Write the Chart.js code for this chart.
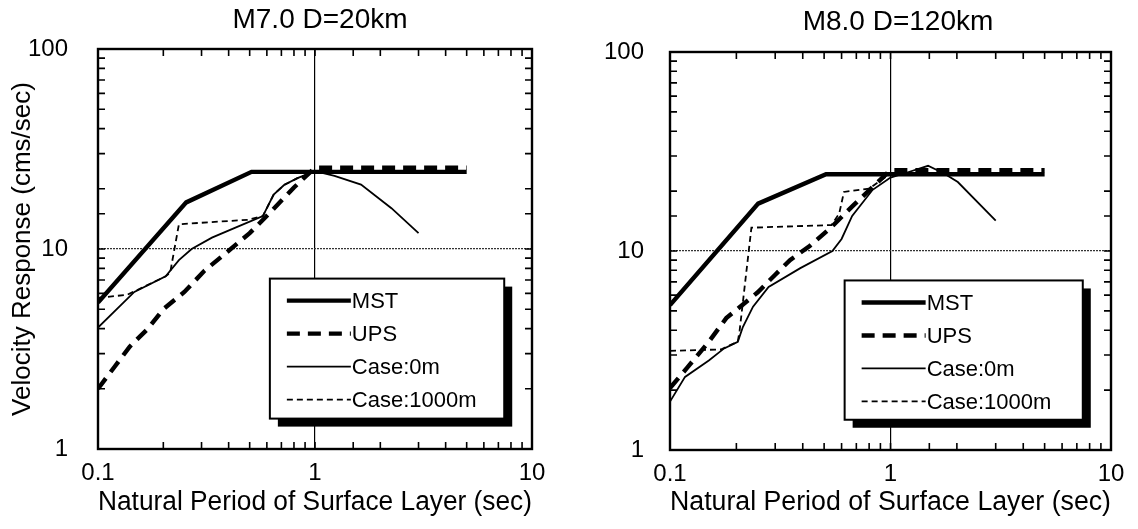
<!DOCTYPE html>
<html>
<head>
<meta charset="utf-8">
<script src="https://cdn.jsdelivr.net/npm/chart.js@4.4.1/dist/chart.umd.min.js"></script>
<style>
  html, body { margin: 0; padding: 0; background: #fff; }
  #wrap { position: relative; width: 1138px; height: 529px; }
  canvas { position: absolute; top: 0; }
  #c1 { left: 0; }
  #c2 { left: 569px; }
</style>
</head>
<body>
<div id="wrap">
  <canvas id="c1" width="569" height="529"></canvas>
  <canvas id="c2" width="569" height="529"></canvas>
</div>
<script>
// tick labels shown on the log axes
const xTickLabels = [0.1, 1, 10];
const yTickLabels = [1, 10, 100];

// M7.0 D=20km : period (sec) / velocity response (cm/s)
const m7MstT = [0.1, 0.255, 0.51, 5];
const m7MstV = [5.4, 17.1, 24.3, 24.3];
const m7UpsT = [0.1, 0.12, 0.14, 0.17, 0.2, 0.25, 0.31, 0.4, 0.5, 0.62, 0.8, 1, 5];
const m7UpsV = [2.0, 2.6, 3.25, 4.0, 5.0, 6.1, 7.8, 9.8, 12.0, 15.2, 20.3, 25.5, 25.5];
const m7Case0T = [0.1, 0.147, 0.205, 0.236, 0.27, 0.335, 0.43, 0.575, 0.645, 0.72, 0.83, 1, 1.23, 1.63, 2.25, 3];
const m7Case0V = [4.05, 6.1, 7.3, 8.8, 10, 11.4, 12.8, 14.6, 18.7, 20.9, 22.6, 24.5, 23.2, 21, 16, 12];
const m7Case1000T = [0.1, 0.136, 0.15, 0.205, 0.215, 0.236, 0.49, 0.575, 0.645, 0.72, 0.83, 1];
const m7Case1000V = [5.7, 5.9, 6.2, 7.3, 7.6, 13.3, 14.0, 14.6, 18.7, 20.9, 22.6, 24.5];

// M8.0 D=120km
const m8MstT = [0.1, 0.251, 0.51, 5];
const m8MstV = [5.35, 17.3, 24.3, 24.3];
const m8UpsT = [0.1, 0.12, 0.15, 0.18, 0.25, 0.3, 0.35, 0.43, 0.54, 0.68, 0.85, 1, 5];
const m8UpsV = [2.05, 2.6, 3.5, 4.6, 6.2, 7.6, 9.0, 10.6, 13.2, 17, 21.5, 25.5, 25.5];
const m8Case0T = [0.1, 0.117, 0.15, 0.176, 0.203, 0.214, 0.238, 0.28, 0.39, 0.545, 0.6, 0.67, 0.83, 1, 1.19, 1.48, 1.75, 2.02, 3];
const m8Case0V = [1.75, 2.33, 2.82, 3.24, 3.5, 4.15, 5.25, 6.6, 8.2, 10, 11.5, 15, 20.3, 23.4, 24.8, 26.8, 24.5, 22.2, 14.2];
const m8Case1000T = [0.1, 0.17, 0.203, 0.207, 0.234, 0.54, 0.585, 0.615, 0.8, 1];
const m8Case1000V = [3.15, 3.2, 3.5, 4.0, 13.1, 13.5, 15.4, 19.8, 20.6, 24.5];

const FONT = '"Liberation Sans", Arial, Helvetica, sans-serif';

const lineStyle = {
  'MST':        { borderWidth: 4.4, borderDash: [] },
  'UPS':        { borderWidth: 4.4, borderDash: [13, 8] },
  'Case:0m':    { borderWidth: 1.8, borderDash: [] },
  'Case:1000m': { borderWidth: 1.8, borderDash: [6, 4] }
};

function zip(xs, ys) {
  return xs.map((x, i) => ({ x: x, y: ys[i] }));
}

function isLabel(list, v) {
  return list.some(t => Math.abs(t - v) / t < 1e-6);
}

// border of the plot plus the small inward ticks on all four sides
const frameTicks = {
  id: 'frameTicks',
  afterDatasetsDraw(chart) {
    const { ctx, chartArea: a, scales: { x, y } } = chart;
    ctx.save();
    ctx.strokeStyle = '#000';
    ctx.lineWidth = 1.6;
    ctx.beginPath();
    x.ticks.forEach(t => {
      const px = x.getPixelForValue(t.value);
      if (px < a.left + 2 || px > a.right - 2) return;
      ctx.moveTo(px, a.top); ctx.lineTo(px, a.top + 7);
      ctx.moveTo(px, a.bottom); ctx.lineTo(px, a.bottom - 7);
    });
    y.ticks.forEach(t => {
      const py = y.getPixelForValue(t.value);
      if (py < a.top + 2 || py > a.bottom - 2) return;
      ctx.moveTo(a.left, py); ctx.lineTo(a.left + 7, py);
      ctx.moveTo(a.right, py); ctx.lineTo(a.right - 7, py);
    });
    ctx.stroke();
    ctx.lineWidth = 2.4;
    ctx.strokeRect(a.left, a.top, a.right - a.left, a.bottom - a.top);
    ctx.restore();
  }
};

// boxed legend with the heavy drop shadow
const boxLegend = {
  id: 'boxLegend',
  afterDatasetsDraw(chart, args, opts) {
    const { ctx, chartArea: a } = chart;
    const w = a.right - a.left, h = a.bottom - a.top;
    const bx = a.left + w * opts.left, by = a.top + h * opts.top;
    const bw = w * opts.width, bh = h * opts.height;
    ctx.save();
    ctx.fillStyle = '#000';
    ctx.fillRect(bx + 8, by + 8, bw, bh);
    ctx.fillStyle = '#fff';
    ctx.fillRect(bx, by, bw, bh);
    ctx.strokeStyle = '#000';
    ctx.lineWidth = 2;
    ctx.strokeRect(bx, by, bw, bh);
    ctx.font = '22px ' + FONT;
    ctx.fillStyle = '#000';
    ctx.textBaseline = 'middle';
    chart.data.datasets.forEach((ds, i) => {
      const ly = by + 22 + i * 33;
      ctx.beginPath();
      ctx.setLineDash(ds.borderDash);
      ctx.lineWidth = ds.borderWidth;
      ctx.moveTo(bx + 17, ly);
      ctx.lineTo(bx + 81, ly);
      ctx.stroke();
      ctx.setLineDash([]);
      ctx.fillText(ds.label, bx + 82, ly + 1);
    });
    ctx.restore();
  }
};

const panelTitle = {
  id: 'panelTitle',
  afterDraw(chart, args, opts) {
    const ctx = chart.ctx;
    ctx.save();
    ctx.font = '28px ' + FONT;
    ctx.fillStyle = '#000';
    ctx.textAlign = 'center';
    ctx.textBaseline = 'middle';
    ctx.fillText(opts.text, opts.x, opts.y);
    ctx.restore();
  }
};

function makeChart(canvasId, title, series, box) {
  const datasets = series.map(s => ({
    label: s.label,
    data: zip(s.T, s.V),
    borderColor: '#000',
    backgroundColor: '#000',
    borderWidth: lineStyle[s.label].borderWidth,
    borderDash: lineStyle[s.label].borderDash,
    pointRadius: 0,
    tension: 0,
    fill: false
  }));

  return new Chart(document.getElementById(canvasId), {
    type: 'line',
    data: { datasets: datasets },
    plugins: [frameTicks, boxLegend, panelTitle],
    options: {
      responsive: false,
      animation: false,
      events: [],
      layout: { padding: { top: box.top, right: box.right, bottom: 0, left: 0 } },
      plugins: {
        legend: { display: false },
        tooltip: { enabled: false },
        title: { display: false },
        boxLegend: { left: 0.396, top: 0.574, width: 0.54, height: 0.35 },
        panelTitle: { text: title, x: box.titleX, y: box.titleY }
      },
      scales: {
        x: {
          type: 'logarithmic',
          min: 0.1,
          max: 10,
          afterFit: sc => { sc.height = box.xHeight; },
          border: { display: false },
          grid: {
            drawTicks: false,
            lineWidth: 1.2,
            color: c => (c.tick && Math.abs(c.tick.value - 1) < 1e-6) ? '#000' : 'rgba(0,0,0,0)'
          },
          ticks: {
            autoSkip: false,
            maxRotation: 0,
            padding: 10,
            color: '#000',
            font: { family: FONT, size: 24 },
            callback: v => isLabel(xTickLabels, v) ? String(v) : ''
          },
          title: {
            display: true,
            text: 'Natural Period of Surface Layer (sec)',
            color: '#000',
            font: { family: FONT, size: 27 },
            padding: { top: 0, bottom: 10 }
          }
        },
        y: {
          type: 'logarithmic',
          min: 1,
          max: 100,
          afterFit: sc => { sc.width = box.yWidth; },
          border: { display: false, dash: [2, 1] },
          grid: {
            drawTicks: false,
            lineWidth: 1.2,
            color: c => (c.tick && Math.abs(c.tick.value - 10) < 1e-6) ? '#333' : 'rgba(0,0,0,0)'
          },
          ticks: {
            autoSkip: false,
            padding: box.yPad,
            color: '#000',
            font: { family: FONT, size: 24 },
            callback: v => isLabel(yTickLabels, v) ? String(v) : ''
          },
          title: {
            display: box.yTitle,
            text: 'Velocity Response (cms/sec)',
            color: '#000',
            font: { family: FONT, size: 26 },
            padding: { top: 7, bottom: 0 }
          }
        }
      }
    }
  });
}

makeChart('c1', 'M7.0 D=20km', [
  { label: 'MST', T: m7MstT, V: m7MstV },
  { label: 'UPS', T: m7UpsT, V: m7UpsV },
  { label: 'Case:0m', T: m7Case0T, V: m7Case0V },
  { label: 'Case:1000m', T: m7Case1000T, V: m7Case1000V }
], { top: 49, right: 37, xHeight: 80, yWidth: 98, yPad: 30, yTitle: true, titleX: 320, titleY: 20 });

makeChart('c2', 'M8.0 D=120km', [
  { label: 'MST', T: m8MstT, V: m8MstV },
  { label: 'UPS', T: m8UpsT, V: m8UpsV },
  { label: 'Case:0m', T: m8Case0T, V: m8Case0V },
  { label: 'Case:1000m', T: m8Case1000T, V: m8Case1000V }
], { top: 52, right: 27, xHeight: 79, yWidth: 101, yPad: 26, yTitle: false, titleX: 329, titleY: 22 });
</script>
</body>
</html>
